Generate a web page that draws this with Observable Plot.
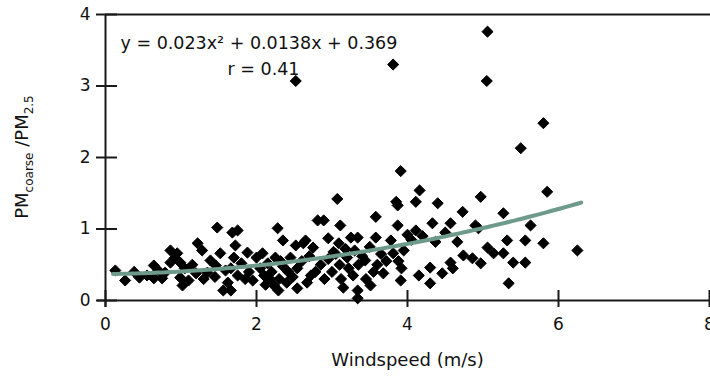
<!DOCTYPE html>
<html><head><meta charset="utf-8">
<script src="https://cdn.jsdelivr.net/npm/d3@7"></script>
<script src="https://cdn.jsdelivr.net/npm/@observablehq/plot@0.6"></script>
<style>body{margin:0;background:#fff}</style>
</head><body><div id="chart"></div>
<script>
const windspeed = [
0.13,0.26,0.38,0.45,0.55,0.64,0.64,0.70,0.75,0.79,0.86,0.86,0.92,0.95,0.99,0.99,1.02,1.05,1.10,1.15,1.20,1.22,1.28,1.30,1.35,1.39,1.45,1.46,1.48,1.52,1.56,1.59,1.62,
1.66,1.66,1.68,1.70,1.72,1.75,1.75,1.80,1.85,1.88,1.90,1.95,2.00,2.05,2.08,2.10,2.12,2.15,2.18,2.20,2.23,2.25,2.28,2.29,2.30,2.32,2.35,2.35,2.40,2.42,2.45,2.48,
2.52,2.52,2.54,2.54,2.60,2.62,2.65,2.67,2.70,2.72,2.75,2.78,2.81,2.85,2.89,2.90,2.95,2.95,3.00,3.02,3.05,3.07,3.09,3.10,3.11,3.12,3.15,3.18,3.20,3.22,3.25,3.28,3.30,3.34,3.34,3.34,3.35,3.40,3.44,3.45,3.50,3.51,
3.55,3.58,3.58,3.60,3.65,3.68,3.72,3.78,3.81,3.81,3.85,3.87,3.87,3.88,3.91,3.91,3.92,3.95,4.00,4.05,4.11,4.11,4.15,4.16,4.20,4.30,4.30,4.33,4.37,4.40,4.46,4.50,
4.57,4.57,4.60,4.66,4.73,4.74,4.86,4.90,4.94,4.97,4.97,5.05,5.06,5.06,5.14,5.27,5.27,5.32,5.34,5.40,5.50,5.56,5.56,5.63,5.80,5.80,5.85,6.25
];
const ratio = [
0.42,0.28,0.40,0.32,0.35,0.49,0.31,0.42,0.31,0.39,0.70,0.53,0.60,0.66,0.53,0.32,0.21,0.45,0.28,0.50,0.38,0.80,0.70,0.30,0.39,0.56,0.33,0.49,1.02,0.66,0.14,0.42,0.25,
0.14,0.45,0.95,0.60,0.77,0.98,0.35,0.52,0.30,0.67,0.40,0.28,0.60,0.45,0.66,0.35,0.22,0.52,0.30,0.40,0.21,0.60,1.01,0.14,0.30,0.55,0.84,0.48,0.25,0.40,0.60,0.33,
3.07,0.77,0.17,0.45,0.55,0.80,0.84,0.25,0.62,0.35,0.74,0.40,1.12,0.50,1.12,0.30,0.87,0.58,0.40,0.68,0.65,1.42,0.80,0.50,1.05,0.30,0.18,0.72,0.60,0.45,0.88,0.35,0.70,0.14,0.03,0.88,0.50,0.62,0.56,0.30,0.75,0.21,
0.40,1.17,0.88,0.50,0.65,0.38,0.55,0.84,3.30,0.66,1.38,1.33,1.05,0.55,1.81,0.28,0.45,0.70,0.92,0.85,1.38,0.98,0.35,1.54,0.90,0.46,0.24,1.08,0.82,1.36,0.38,0.95,
1.08,0.53,0.45,0.82,1.24,0.63,0.59,1.05,1.01,1.45,0.52,3.07,3.76,0.74,0.66,1.22,0.66,0.84,0.24,0.53,2.13,0.84,0.53,1.05,2.48,0.80,1.52,0.70
];
const xTicks = [0, 2, 4, 6, 8];
const yTicks = [0, 1, 2, 3, 4];
const fitCoefficients = [0.023, 0.0138, 0.369]; // quadratic fit shown on the chart
const fitRange = [0.1, 6.3];
const equationLabel = "y = 0.023x² + 0.0138x + 0.369";
const rLabel = "r = 0.41";
const xLabel = "Windspeed (m/s)";

const points = windspeed.map((x, i) => ({x, y: ratio[i]}));
const [qa, qb, qc] = fitCoefficients;
const fit = d3.range(fitRange[0], fitRange[1] + 1e-9, 0.05).map(x => ({x, y: qa * x * x + qb * x + qc}));

const W = 710, H = 381, mL = 105, mR = 1, mT = 14, mB = 81;
const axisColor = "#1a1a1a";
const font = "DejaVu Sans";

const plot = Plot.plot({
  width: W, height: H,
  marginLeft: mL, marginRight: mR, marginTop: mT, marginBottom: mB,
  style: {fontFamily: font, fontSize: "17px", background: "#fff", color: "#111", overflow: "visible"},
  x: {domain: [0, 8], axis: null},
  y: {domain: [0, 4], axis: null},
  marks: [
    Plot.ruleY([4], {stroke: axisColor, strokeWidth: 2, insetRight: -1}),
    Plot.ruleY([0], {stroke: axisColor, strokeWidth: 2, insetLeft: -8, insetRight: -1}),
    Plot.ruleX([0], {stroke: axisColor, strokeWidth: 2, insetBottom: -7}),
    Plot.tickX(xTicks, {x: d => d, stroke: axisColor, strokeWidth: 2, insetTop: (H - mT - mB) - 10, insetBottom: -7}),
    Plot.tickY(yTicks, {y: d => d, stroke: axisColor, strokeWidth: 2, insetLeft: -9, insetRight: (W - mL - mR) - 12}),
    Plot.dot(points, {x: "x", y: "y", symbol: "diamond2", r: 5, fill: "#000", stroke: "#000", strokeWidth: 1, strokeLinejoin: "round"}),
    Plot.line(fit, {x: "x", y: "y", stroke: "#6e9a8c", strokeWidth: 4}),
    Plot.axisX({ticks: xTicks, tickSize: 0, tickPadding: 17, label: null, fontSize: 17, tickFormat: d => String(d)}),
    Plot.axisY({ticks: yTicks, tickSize: 0, tickPadding: 15, label: null, fontSize: 17, tickFormat: d => String(d)}),
    Plot.text([xLabel], {frameAnchor: "bottom", dy: 65, fontSize: 18, fill: "#111"}),
    Plot.text([equationLabel], {frameAnchor: "top-left", dx: 15, dy: 22, textAnchor: "start", fontSize: 17.5, fill: "#111"}),
    Plot.text([rLabel], {frameAnchor: "top-left", dx: 158, dy: 48, textAnchor: "middle", fontSize: 17.5, fill: "#111"})
  ]
});

const svg = d3.select(plot);
const yl = svg.append("text")
  .attr("transform", `translate(22,${(mT + (H - mB)) / 2}) rotate(-90)`)
  .attr("text-anchor", "middle")
  .attr("dy", "0.35em")
  .attr("fill", "#111")
  .attr("font-family", font)
  .attr("font-size", 18);
yl.append("tspan").text("PM");
yl.append("tspan").attr("font-size", 12).attr("dy", 5).text("coarse");
yl.append("tspan").attr("dy", -5).text(" /PM");
yl.append("tspan").attr("font-size", 12).attr("dy", 5).text("2.5");

document.getElementById("chart").appendChild(plot);
</script>
</body></html>
